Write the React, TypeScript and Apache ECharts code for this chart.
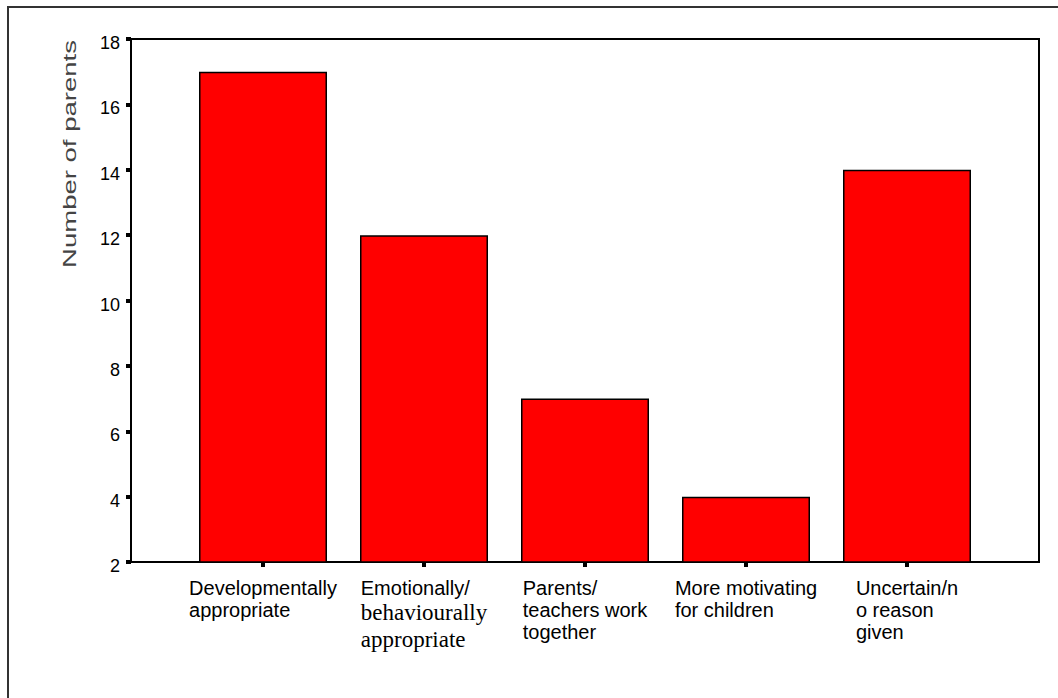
import React, { useEffect, useRef } from "react";
import * as echarts from "echarts";

const categories = [
  "Developmentally\nappropriate",
  "Emotionally/\nbehaviourally\nappropriate",
  "Parents/\nteachers work\ntogether",
  "More motivating\nfor children",
  "Uncertain/n\no reason\ngiven",
];
const parentCounts = [17, 12, 7, 4, 14];
const yMin = 2;
const yMax = 18;
const yInterval = 2;
const yTitle = "Number of parents";

export default function App() {
  const ref = useRef<HTMLDivElement>(null);
  useEffect(() => {
    document.body.style.margin = "0";
    const chart = echarts.init(ref.current!, null, { renderer: "svg" });
    const sans = "'Liberation Sans', Arial, sans-serif";
    const serif = "'Liberation Serif', 'Times New Roman', serif";
    chart.setOption({
      animation: false,
      backgroundColor: "#fff",
      grid: [
        { left: 131, top: 39, right: 19, bottom: 136, show: true, borderColor: "#000", borderWidth: 2, backgroundColor: "transparent" },
        { left: 182.5, top: 39, right: 70.5, bottom: 136 },
      ],
      xAxis: [
        { type: "category", gridIndex: 0, data: [""], show: false },
        {
          type: "category",
          gridIndex: 1,
          data: categories,
          axisLine: { show: false },
          axisTick: { show: true, alignWithLabel: true, length: 5, lineStyle: { color: "#000", width: 4 } },
          axisLabel: {
            margin: 15,
            verticalAlign: "top",
            interval: 0,
            formatter: (value: string, index: number) =>
              value
                .split("\n")
                .map((line, i) => (index === 1 && i > 0 ? `{serif|${line}}` : `{sans|${line}}`))
                .join("\n"),
            rich: {
              sans: { fontFamily: sans, fontSize: 20, lineHeight: 22, align: "left", color: "#000" },
              serif: { fontFamily: serif, fontSize: 23, lineHeight: 27, align: "left", color: "#000" },
            },
          },
        },
      ],
      yAxis: [
        {
          type: "value",
          gridIndex: 0,
          min: yMin,
          max: yMax,
          interval: yInterval,
          splitLine: { show: false },
          axisLine: { show: true, lineStyle: { color: "#000", width: 2 } },
          axisTick: { show: true, length: 5, lineStyle: { color: "#000", width: 4 } },
          axisLabel: { margin: 11, color: "#000", fontFamily: sans, fontSize: 18, verticalAlign: "top", lineHeight: 8 },
        },
        { type: "value", gridIndex: 1, min: yMin, max: yMax, interval: yInterval, show: false, splitLine: { show: false } },
      ],
      series: [
        {
          type: "bar",
          xAxisIndex: 1,
          yAxisIndex: 1,
          data: parentCounts,
          barWidth: 128,
          clip: true,
          itemStyle: { color: "#FF0000", borderColor: "#000", borderWidth: 1.5 },
        },
      ],
      graphic: [
        {
          type: "rect",
          silent: true,
          shape: { x: 8, y: 7, width: 1200, height: 800 },
          style: { fill: "none", stroke: "#333", lineWidth: 2 },
        },
        {
          type: "text",
          silent: true,
          x: 70,
          y: 154,
          rotation: Math.PI / 2,
          scaleX: 1.53,
          style: {
            text: yTitle,
            fontFamily: sans,
            fontSize: 18,
            fill: "#444",
            align: "center",
            verticalAlign: "middle",
          },
        },
      ],
    });
    return () => chart.dispose();
  }, []);
  return <div ref={ref} style={{ width: 1058, height: 698 }} />;
}
